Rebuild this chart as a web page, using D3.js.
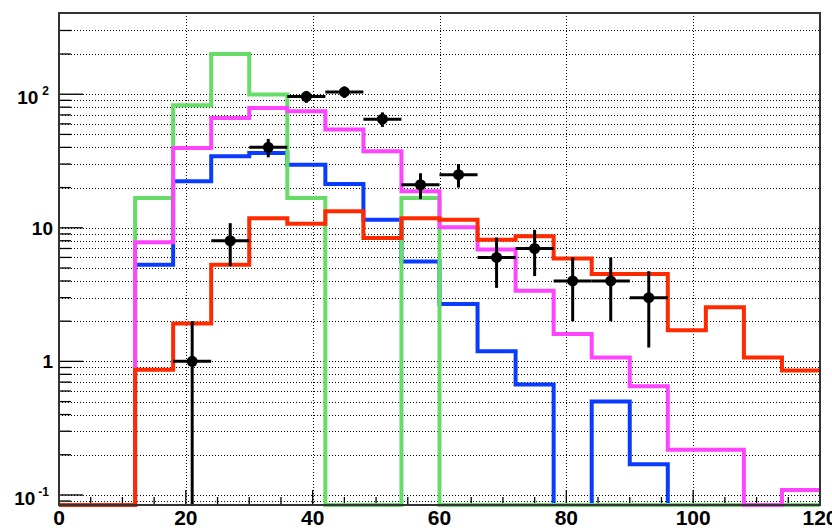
<!DOCTYPE html>
<html>
<head>
<meta charset="utf-8">
<script src="https://cdn.jsdelivr.net/npm/d3@7"></script>
<style>
  html, body { margin: 0; padding: 0; background: #fff; }
  svg { display: block; }
  text { font-family: "Liberation Sans", Arial, Helvetica, sans-serif; font-weight: bold; fill: #000; }
</style>
</head>
<body>
<svg id="chart" width="832" height="530"></svg>
<script>
// ---- Data ----
const binEdges = [0, 6, 12, 18, 24, 30, 36, 42, 48, 54, 60, 66, 72, 78, 84, 90, 96, 102, 108, 114, 120];

const greenValues   = [0, 0, 16.7, 82.7, 200, 99.5, 16.7, 0, 0, 16.7, 0, 0, 0, 0, 0, 0, 0, 0, 0, 0];
const blueValues    = [0, 0, 5.3, 22.3, 34.3, 36.3, 29.7, 21.3, 11.5, 5.6, 2.69, 1.19, 0.67, 0, 0.50, 0.17, 0, 0, 0, 0];
const magentaValues = [0, 0, 7.8, 39.6, 66.5, 78.9, 74.6, 54.4, 37.4, 18.8, 10.1, 6.87, 3.38, 1.60, 1.07, 0.65, 0.218, 0.218, 0, 0.109];
const redValues     = [0, 0, 0.867, 1.92, 5.3, 11.8, 10.7, 13.3, 8.4, 11.8, 11.5, 8.15, 8.63, 5.88, 4.51, 4.51, 1.71, 2.54, 1.07, 0.856];

const dataX    = [21, 27, 33, 39, 45, 51, 57, 63, 69, 75, 81, 87, 93];
const dataY    = [1, 8, 40, 96, 104, 65, 21, 25, 6, 7, 4, 4, 3];
const dataErr  = [1, 2.83, 6.3, 9.8, 10.2, 8.1, 4.6, 5, 2.45, 2.65, 2, 2, 1.73];
const dataHalfWidth = 3;

const xMajorTicks = [0, 20, 40, 60, 80, 100, 120];
const xMinorTicks = [5, 10, 15, 25, 30, 35, 45, 50, 55, 65, 70, 75, 85, 90, 95, 105, 110, 115];
const xGridTicks  = [20, 40, 60, 80, 100];
const yMajorTicks = [0.1, 1, 10, 100];
const yMinorTicks = [0.09, 0.2, 0.3, 0.4, 0.5, 0.6, 0.7, 0.8, 0.9,
                     2, 3, 4, 5, 6, 7, 8, 9,
                     20, 30, 40, 50, 60, 70, 80, 90,
                     200, 300];
const yTickLabels = [
  { v: 100, base: "10", exp: "2" },
  { v: 10,  base: "10", exp: "" },
  { v: 1,   base: "1",  exp: "" },
  { v: 0.1, base: "10", exp: "-1" }
];

const series = [
  { name: "blue",    values: blueValues,    color: "#0a3cff" },
  { name: "green",   values: greenValues,   color: "#66dd66" },
  { name: "magenta", values: magentaValues, color: "#ff44ff" },
  { name: "red",     values: redValues,     color: "#ff2a00" }
];

// ---- Layout ----
const frame = { left: 59, right: 820, top: 13, bottom: 505 };
const yMin = 0.0841, yMax = 405.5;

const svg = d3.select("#chart");
const x = d3.scaleLinear().domain([0, 120]).range([frame.left, frame.right]);
const y = d3.scaleLog().domain([yMin, yMax]).range([frame.bottom, frame.top]).clamp(true);
const yy = v => (v <= yMin ? frame.bottom : y(v));

// ---- Grid ----
const grid = svg.append("g").attr("stroke", "#000").attr("stroke-width", 1).attr("stroke-dasharray", "1,2").attr("fill", "none");
grid.selectAll("line.gx").data(xGridTicks).join("line")
  .attr("x1", d => Math.round(x(d)) + 0.5).attr("x2", d => Math.round(x(d)) + 0.5)
  .attr("y1", frame.top).attr("y2", frame.bottom);
grid.selectAll("line.gy").data(yMajorTicks.concat(yMinorTicks)).join("line")
  .attr("x1", frame.left).attr("x2", frame.right)
  .attr("y1", d => Math.round(y(d)) + 0.5).attr("y2", d => Math.round(y(d)) + 0.5);

// ---- Ticks ----
const ticks = svg.append("g").attr("stroke", "#000").attr("stroke-width", 1.3);
ticks.selectAll("line.ymaj").data(yMajorTicks).join("line")
  .attr("x1", frame.left).attr("x2", frame.left + 24)
  .attr("y1", d => y(d)).attr("y2", d => y(d));
ticks.selectAll("line.ymin").data(yMinorTicks).join("line")
  .attr("x1", frame.left).attr("x2", frame.left + 12)
  .attr("y1", d => y(d)).attr("y2", d => y(d));
ticks.selectAll("line.xmaj").data(xMajorTicks).join("line")
  .attr("x1", d => x(d)).attr("x2", d => x(d))
  .attr("y1", frame.bottom).attr("y2", frame.bottom - 15);
ticks.selectAll("line.xmin").data(xMinorTicks).join("line")
  .attr("x1", d => x(d)).attr("x2", d => x(d))
  .attr("y1", frame.bottom).attr("y2", frame.bottom - 8);

// ---- Histograms ----
const line = d3.line().x(d => x(d[0])).y(d => yy(d[1]));
series.forEach(s => {
  const pts = [];
  s.values.forEach((v, i) => { pts.push([binEdges[i], v]); pts.push([binEdges[i + 1], v]); });
  svg.append("path").attr("d", line(pts))
    .attr("fill", "none").attr("stroke", s.color).attr("stroke-width", 4)
    .attr("stroke-linejoin", "miter");
});

// ---- Data points ----
const pts = svg.append("g");
dataX.forEach((cx, i) => {
  const v = dataY[i], e = dataErr[i];
  pts.append("line").attr("x1", x(cx - dataHalfWidth)).attr("x2", x(cx + dataHalfWidth))
    .attr("y1", y(v)).attr("y2", y(v)).attr("stroke", "#000").attr("stroke-width", 3);
  pts.append("line").attr("x1", x(cx)).attr("x2", x(cx))
    .attr("y1", yy(v - e)).attr("y2", yy(v + e)).attr("stroke", "#000").attr("stroke-width", 3);
  pts.append("circle").attr("cx", x(cx)).attr("cy", y(v)).attr("r", 5.5).attr("fill", "#000");
});

// ---- Frame ----
svg.append("rect").attr("x", frame.left).attr("y", frame.top)
  .attr("width", frame.right - frame.left).attr("height", frame.bottom - frame.top)
  .attr("fill", "none").attr("stroke", "#333").attr("stroke-width", 2);

// ---- Labels ----
svg.selectAll("text.xl").data(xMajorTicks).join("text")
  .attr("x", d => x(d)).attr("y", 525)
  .attr("text-anchor", "middle").attr("font-size", 21)
  .text(d => d);

yTickLabels.forEach(l => {
  const t = svg.append("text").attr("text-anchor", "end").attr("font-size", 19)
    .attr("x", l.exp ? 49 : 53)
    .attr("y", y(l.v) + (l.exp ? 10 : 7));
  t.append("tspan").text(l.base);
  if (l.exp) {
    t.append("tspan").attr("font-size", 12).attr("dx", l.exp === "2" ? 4 : 3).attr("dy", -9).text(l.exp);
  }
});
</script>
</body>
</html>
